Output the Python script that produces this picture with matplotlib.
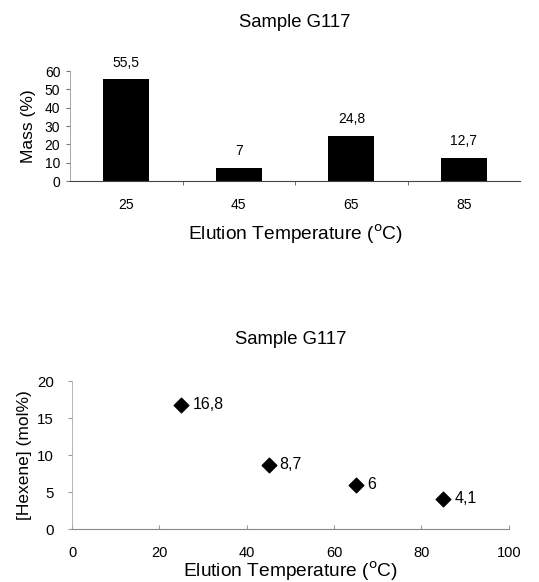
import matplotlib
matplotlib.use("Agg")
import matplotlib.pyplot as plt

plt.rcParams['font.family'] = ['Liberation Sans', 'DejaVu Sans']

# Data
categories = ["25", "45", "65", "85"]
mass = [55.5, 7, 24.8, 12.7]
mass_labels = ["55,5", "7", "24,8", "12,7"]

temps = [25, 45, 65, 85]
hexene = [16.8, 8.7, 6, 4.1]
hexene_labels = ["16,8", "8,7", "6", "4,1"]

fig = plt.figure(figsize=(5.39, 5.82), dpi=100)

# Top bar chart
ax1 = fig.add_axes([0.130, 0.689, 0.835, 0.189])
x = list(range(len(categories)))
ax1.bar(x, mass, width=0.41, color="black")
for xi, v, lab in zip(x, mass, mass_labels):
    ax1.annotate(lab, (xi, v), xytext=(0, 7), textcoords="offset points",
                 ha="center", va="bottom", fontsize=10)
ax1.set_xlim(-0.5, 3.5)
ax1.set_ylim(0, 60)
ax1.set_yticks([0, 10, 20, 30, 40, 50, 60])
ax1.set_xticks(x)
ax1.set_xticklabels(categories)
ax1.set_xticks([0.5, 1.5, 2.5], minor=True)
ax1.tick_params(axis="x", which="major", length=0, pad=12, labelsize=10)
ax1.tick_params(axis="x", which="minor", length=3, direction="out", color="#555555")
ax1.tick_params(axis="y", length=3, color="#777777", labelsize=10, pad=4)
for s in ["top", "right"]:
    ax1.spines[s].set_visible(False)
ax1.spines["left"].set_color("#999999")
ax1.spines["left"].set_linewidth(0.6)
ax1.spines["left"].set_linestyle((0, (1, 1)))
ax1.spines["bottom"].set_color("#444444")
ax1.spines["bottom"].set_linewidth(0.8)
ax1.set_xlabel("Elution Temperature ($^{\\mathrm{o}}$C)", fontsize=13.8, labelpad=8)
ax1.set_ylabel("Mass (%)", fontsize=12.5, labelpad=6)
ax1.set_title("Sample G117", fontsize=13.3, pad=32)

# Bottom scatter chart
ax2 = fig.add_axes([0.1336, 0.091, 0.8104, 0.254])
ax2.scatter(temps, hexene, marker="D", s=55, color="black", zorder=3)
for t, h, lab in zip(temps, hexene, hexene_labels):
    ax2.annotate(lab, (t, h), xytext=(8, 0), textcoords="offset points",
                 ha="left", va="center", fontsize=11.5)
ax2.set_xlim(0, 100)
ax2.set_ylim(0, 20)
ax2.set_xticks([0, 20, 40, 60, 80, 100])
ax2.set_yticks([0, 5, 10, 15, 20])
ax2.tick_params(axis="x", length=3, direction="in", color="#999999", labelsize=10.5, pad=12)
ax2.tick_params(axis="y", length=3, color="#999999", labelsize=10.8, pad=10)
for s in ["top", "right"]:
    ax2.spines[s].set_visible(False)
ax2.spines["left"].set_color("#aaaaaa")
ax2.spines["left"].set_linewidth(0.6)
ax2.spines["left"].set_linestyle((0, (1, 1)))
ax2.spines["bottom"].set_color("#888888")
ax2.spines["bottom"].set_linewidth(0.8)
ax2.set_xlabel("Elution Temperature ($^{\\mathrm{o}}$C)", fontsize=13.8, labelpad=0)
ax2.set_ylabel("[Hexene] (mol%)", fontsize=12.5, labelpad=4)
ax2.set_title("Sample G117", fontsize=13.3, pad=27)

fig.savefig("out.png", dpi=100)
